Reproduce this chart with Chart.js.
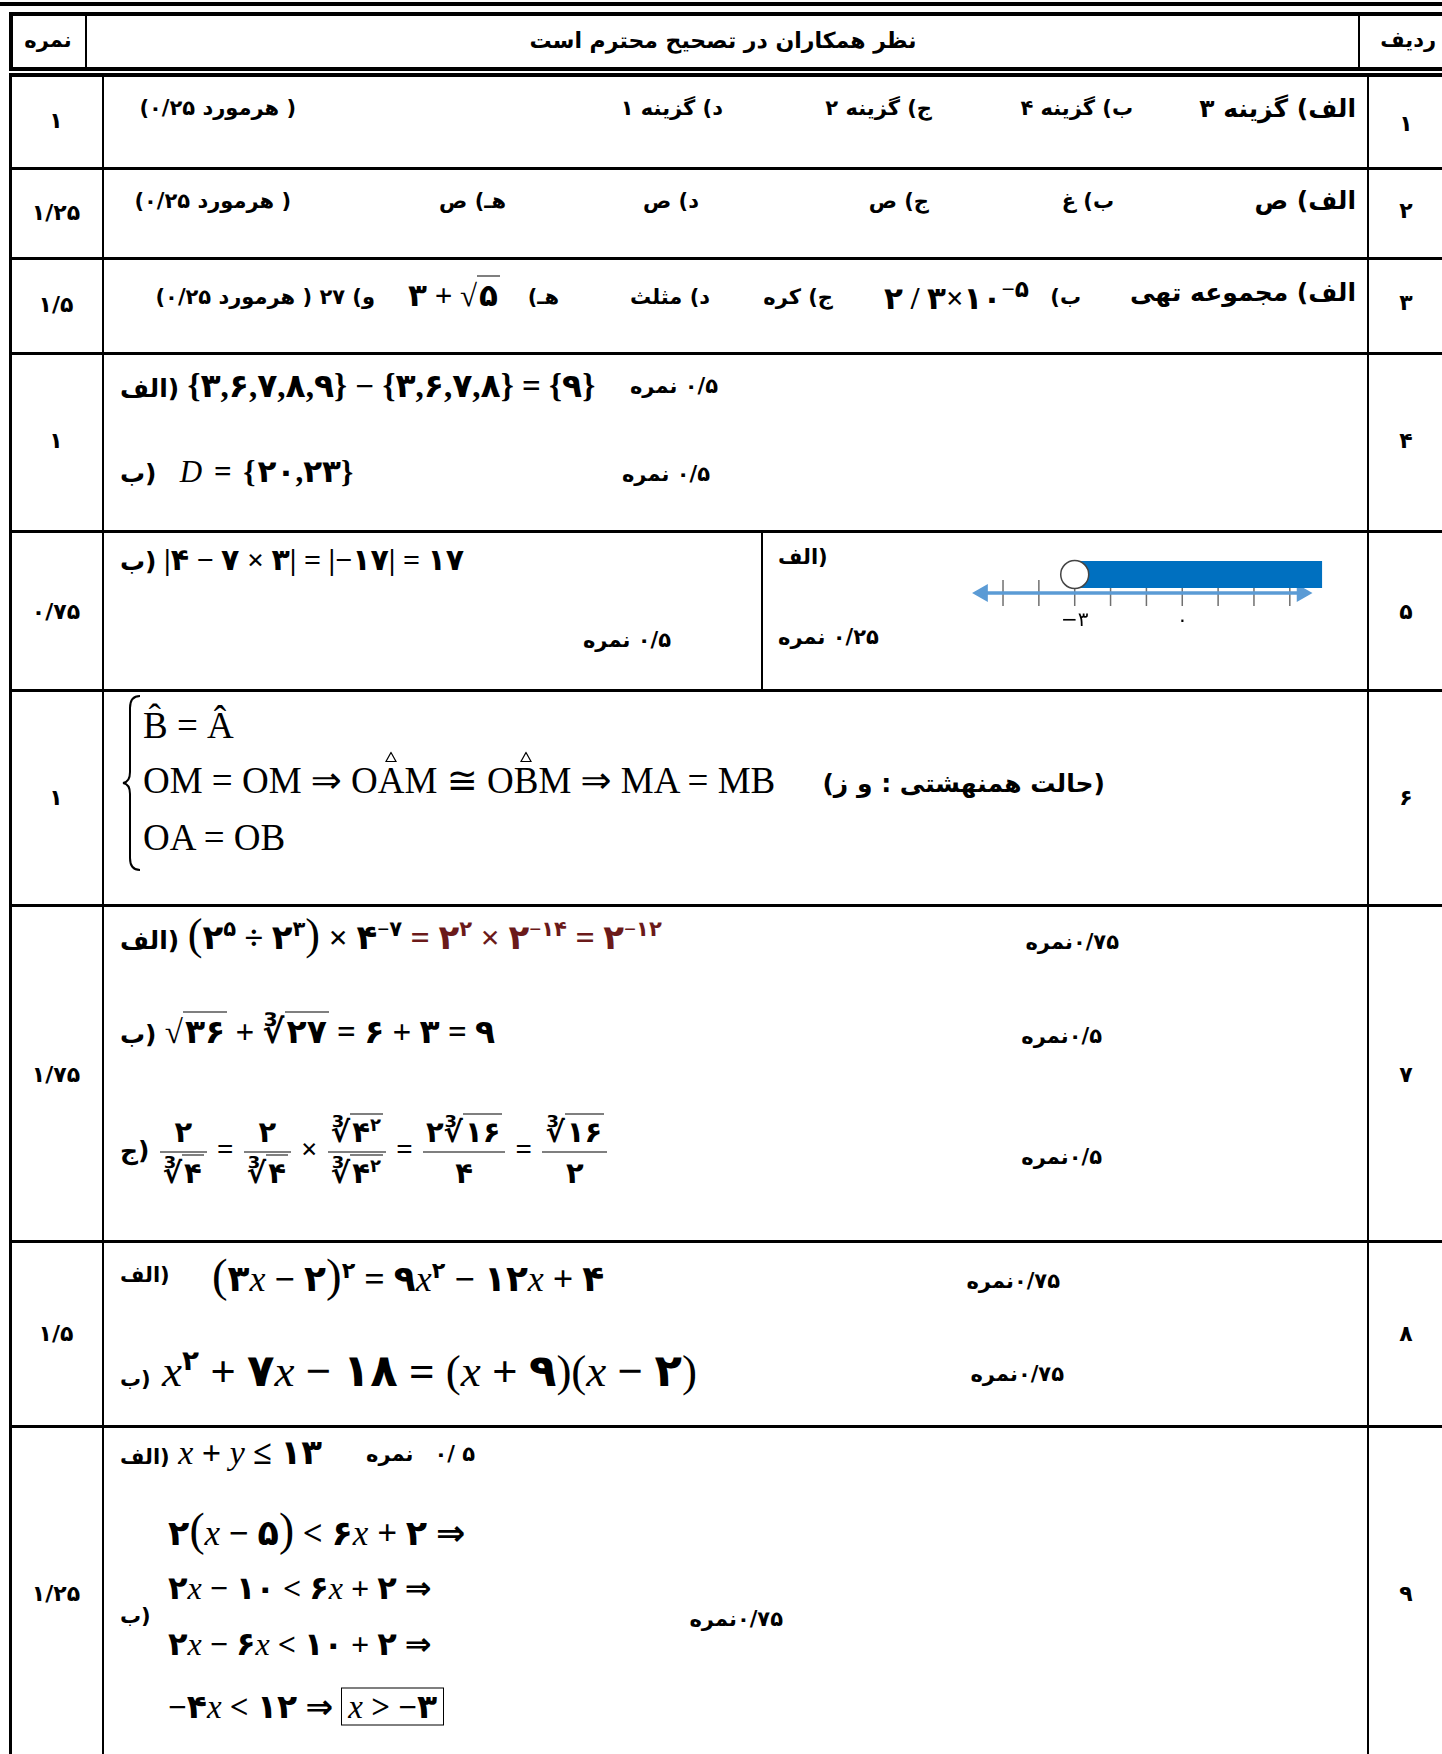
<!DOCTYPE html>
<html lang="fa">
<head>
<meta charset="utf-8">
<title>پاسخنامه</title>
<script src="https://cdn.jsdelivr.net/npm/chart.js@4.4.1/dist/chart.umd.min.js"></script>
<style>
  html, body { margin: 0; padding: 0; background: #fff; }
  #page { position: relative; width: 1442px; height: 1754px; overflow: hidden; background: #fff; color: #000; }
  .hl, .vl { position: absolute; background: #000; }
  .t { position: absolute; white-space: nowrap; transform: translateY(-50%); }
  .c { transform: translate(-50%, -50%); text-align: center; }
  .fa { font-family: "DejaVu Sans", sans-serif; font-weight: bold; direction: rtl; unicode-bidi: isolate; }
  .m { font-family: "Liberation Serif", "DejaVu Sans", serif; direction: ltr; unicode-bidi: bidi-override; font-weight: bold; }
  .m i { font-style: italic; font-weight: normal; }
  .n { font-weight: normal; }
  .red { color: #6b1a1a; }
  .fr { display: inline-flex; flex-direction: column; vertical-align: middle; text-align: center; margin: 0 3px; }
  .fr > span:first-child { border-bottom: 1.5px solid #000; padding: 0 3px 3px; }
  .fr > span:last-child { padding: 3px 3px 0; }
  .ov { border-top: 1.5px solid #000; padding: 1px 2px 0; }
  .hat { position: relative; display: inline-block; }
  .hat > svg { position: absolute; left: 50%; top: -0.2em; transform: translateX(-50%); }
  .box { border: 1.5px solid #000; padding: 0 6px; }
  sup { font-size: 0.62em; line-height: 0; }
  #nl { position: absolute; left: 960px; top: 540px; }
</style>
</head>
<body>
<div id="page">

  <!-- rules -->
  <div class="hl" style="left:0;top:2px;width:1442px;height:4px"></div>
  <div style="position:absolute;left:9px;top:12px;width:1450px;height:51px;border:4px solid #000"></div>
  <div class="vl" style="left:85px;top:12px;width:2px;height:58px"></div>
  <div class="vl" style="left:1358px;top:12px;width:2px;height:58px"></div>

  <div class="hl" style="left:9px;top:73px;width:1433px;height:4px"></div>
  <div class="vl" style="left:9px;top:73px;width:3px;height:1681px"></div>
  <div class="vl" style="left:102px;top:73px;width:2px;height:1681px"></div>
  <div class="vl" style="left:1367px;top:73px;width:2px;height:1681px"></div>
  <div class="hl" style="left:9px;top:167px;width:1433px;height:3px"></div>
  <div class="hl" style="left:9px;top:257px;width:1433px;height:3px"></div>
  <div class="hl" style="left:9px;top:352px;width:1433px;height:3px"></div>
  <div class="hl" style="left:9px;top:530px;width:1433px;height:3px"></div>
  <div class="hl" style="left:9px;top:689px;width:1433px;height:3px"></div>
  <div class="hl" style="left:9px;top:904px;width:1433px;height:3px"></div>
  <div class="hl" style="left:9px;top:1240px;width:1433px;height:3px"></div>
  <div class="hl" style="left:9px;top:1425px;width:1433px;height:3px"></div>
  <div class="vl" style="left:761px;top:531px;width:2px;height:159px"></div>

  <!-- header -->
  <div class="t c fa" style="left:48px;top:40px;font-size:21px">نمره</div>
  <div class="t c fa" style="left:723px;top:40px;font-size:22px">نظر همکاران در تصحیح محترم است</div>
  <div class="t fa" style="right:6px;top:40px;font-size:21px">ردیف</div>

  <!-- scores and row numbers -->
  <div class="t c fa" style="left:56px;top:120px;font-size:22px">۱</div>
  <div class="t c fa" style="left:56px;top:212px;font-size:22px">۱/۲۵</div>
  <div class="t c fa" style="left:56px;top:304px;font-size:22px">۱/۵</div>
  <div class="t c fa" style="left:56px;top:440px;font-size:22px">۱</div>
  <div class="t c fa" style="left:56px;top:611px;font-size:22px">۰/۷۵</div>
  <div class="t c fa" style="left:56px;top:797px;font-size:22px">۱</div>
  <div class="t c fa" style="left:56px;top:1074px;font-size:22px">۱/۷۵</div>
  <div class="t c fa" style="left:56px;top:1333px;font-size:22px">۱/۵</div>
  <div class="t c fa" style="left:56px;top:1593px;font-size:22px">۱/۲۵</div>

  <div class="t c fa" style="left:1406px;top:123px;font-size:22px">۱</div>
  <div class="t c fa" style="left:1406px;top:210px;font-size:22px">۲</div>
  <div class="t c fa" style="left:1406px;top:302px;font-size:22px">۳</div>
  <div class="t c fa" style="left:1406px;top:440px;font-size:22px">۴</div>
  <div class="t c fa" style="left:1406px;top:611px;font-size:22px">۵</div>
  <div class="t c fa" style="left:1406px;top:797px;font-size:22px">۶</div>
  <div class="t c fa" style="left:1406px;top:1074px;font-size:22px">۷</div>
  <div class="t c fa" style="left:1406px;top:1333px;font-size:22px">۸</div>
  <div class="t c fa" style="left:1406px;top:1593px;font-size:22px">۹</div>

  <!-- row 1 -->
  <div class="t fa" style="right:86px;top:108px;font-size:25px">الف) گزینه ۳</div>
  <div class="t fa" style="right:309px;top:108px;font-size:21px">ب) گزینه ۴</div>
  <div class="t fa" style="right:510px;top:108px;font-size:21px">ج) گزینه ۲</div>
  <div class="t fa" style="right:719px;top:108px;font-size:21px">د) گزینه ۱</div>
  <div class="t fa" style="right:1146px;top:108px;font-size:21px">( هرمورد ۰/۲۵)</div>

  <!-- row 2 -->
  <div class="t fa" style="right:86px;top:200px;font-size:25px">الف) ص</div>
  <div class="t fa" style="right:328px;top:201px;font-size:21px">ب) غ</div>
  <div class="t fa" style="right:513px;top:201px;font-size:21px">ج) ص</div>
  <div class="t fa" style="right:743px;top:201px;font-size:21px">د) ص</div>
  <div class="t fa" style="right:936px;top:201px;font-size:21px">هـ) ص</div>
  <div class="t fa" style="right:1151px;top:201px;font-size:21px">( هرمورد ۰/۲۵)</div>

  <!-- row 3 -->
  <div class="t fa" style="right:86px;top:292px;font-size:25px">الف) مجموعه تهی</div>
  <div class="t fa" style="right:361px;top:297px;font-size:21px">ب)</div>
  <div class="t m" style="left:884px;top:298px;font-size:31px">۲ / ۳×۱۰<sup style="font-size:0.75em">−۵</sup></div>
  <div class="t fa" style="right:609px;top:297px;font-size:21px">ج) کره</div>
  <div class="t fa" style="right:732px;top:297px;font-size:21px">د) مثلث</div>
  <div class="t fa" style="right:883px;top:297px;font-size:21px">هـ)</div>
  <div class="t m" style="left:408px;top:295px;font-size:31px">۳ + √<span class="ov">۵</span></div>
  <div class="t fa" style="right:1067px;top:297px;font-size:21px">و) ۲۷ ( هرمورد ۰/۲۵)</div>

  <!-- row 4 -->
  <div class="t" style="left:120px;top:385px;font-size:33px"><span class="fa" style="font-size:25px">(الف</span> <span class="m" style="letter-spacing:1px">{۳,۶,۷,۸,۹} − {۳,۶,۷,۸} = {۹}</span></div>
  <div class="t fa" style="right:724px;top:386px;font-size:21px">۰/۵ نمره</div>
  <div class="t" style="left:120px;top:471px;font-size:31px"><span class="fa" style="font-size:25px">(ب</span>&nbsp;&nbsp; <span class="m" style="letter-spacing:2px"><i>D</i> = {۲۰,۲۳}</span></div>
  <div class="t fa" style="right:732px;top:474px;font-size:21px">۰/۵ نمره</div>

  <!-- row 5 -->
  <div class="t" style="left:120px;top:559px;font-size:30px"><span class="fa" style="font-size:25px">(ب</span> <span class="m">|۴ − ۷ × ۳| = |−۱۷| = ۱۷</span></div>
  <div class="t fa" style="right:771px;top:640px;font-size:21px">۰/۵ نمره</div>
  <div class="t fa" style="left:778px;top:557px;font-size:21px">(الف</div>
  <div class="t fa" style="left:778px;top:637px;font-size:21px">۰/۲۵ نمره</div>
  <canvas id="nl" width="380" height="100"></canvas>

  <!-- row 6 -->
  <svg style="position:absolute;left:121px;top:694px" width="22" height="178">
    <path d="M19,2 Q9,2 9,14 L9,78 Q9,88 2,89 Q9,90 9,100 L9,164 Q9,176 19,176" stroke="#000" stroke-width="2" fill="none"/>
  </svg>
  <div class="t m n" style="left:143px;top:725px;font-size:37px">B̂ = Â</div>
  <div class="t m n" style="left:143px;top:780px;font-size:37px">OM = OM ⇒ O<span class="hat">A<svg width="12" height="11"><path d="M6,1 L11,10 L1,10 Z" fill="none" stroke="#000" stroke-width="1.2"/></svg></span>M ≅ O<span class="hat">B<svg width="12" height="11"><path d="M6,1 L11,10 L1,10 Z" fill="none" stroke="#000" stroke-width="1.2"/></svg></span>M ⇒ MA = MB</div>
  <div class="t m n" style="left:143px;top:837px;font-size:37px">OA = OB</div>
  <div class="t fa" style="right:337px;top:783px;font-size:25px">(حالت همنهشتی : و ز)</div>

  <!-- row 7 -->
  <div class="t" style="left:120px;top:934px;font-size:34px"><span class="fa" style="font-size:25px">(الف</span> <span class="m"><span class="n" style="font-size:1.3em">(</span>۲<sup>۵</sup> ÷ ۲<sup>۳</sup><span class="n" style="font-size:1.3em">)</span> × ۴<sup>−۷</sup> <span class="red">= ۲<sup>۲</sup> × ۲<sup>−۱۴</sup> = ۲<sup>−۱۲</sup></span></span></div>
  <div class="t fa" style="right:323px;top:942px;font-size:21px">۰/۷۵نمره</div>
  <div class="t" style="left:120px;top:1031px;font-size:33px"><span class="fa" style="font-size:25px">(ب</span> <span class="m">√<span class="ov">۳۶</span> + ∛<span class="ov">۲۷</span> = ۶ + ۳ = ۹</span></div>
  <div class="t fa" style="right:340px;top:1036px;font-size:21px">۰/۵نمره</div>
  <div class="t" style="left:120px;top:1152px;font-size:29px"><span class="fa" style="font-size:25px">(ج</span> <span class="m"><span class="fr"><span>۲</span><span>∛<span class="ov">۴</span></span></span> = <span class="fr"><span>۲</span><span>∛<span class="ov">۴</span></span></span> × <span class="fr"><span>∛<span class="ov">۴<sup>۲</sup></span></span><span>∛<span class="ov">۴<sup>۲</sup></span></span></span> = <span class="fr"><span>۲∛<span class="ov">۱۶</span></span><span>۴</span></span> = <span class="fr"><span>∛<span class="ov">۱۶</span></span><span>۲</span></span></span></div>
  <div class="t fa" style="right:340px;top:1157px;font-size:21px">۰/۵نمره</div>

  <!-- row 8 -->
  <div class="t fa" style="left:120px;top:1275px;font-size:21px">(الف</div>
  <div class="t m" style="left:212px;top:1275px;font-size:36px"><span class="n" style="font-size:1.3em">(</span>۳<i>x</i> − ۲<span class="n" style="font-size:1.3em">)</span><sup>۲</sup> = ۹<i>x</i><sup>۲</sup> − ۱۲<i>x</i> + ۴</div>
  <div class="t fa" style="right:382px;top:1281px;font-size:21px">۰/۷۵نمره</div>
  <div class="t" style="left:120px;top:1370px;font-size:45px"><span class="fa" style="font-size:21px">(ب</span> <span class="m"><i>x</i><sup>۲</sup> + ۷<i>x</i> − ۱۸ = <span class="n">(</span><i>x</i> + ۹<span class="n">)(</span><i>x</i> − ۲<span class="n">)</span></span></div>
  <div class="t fa" style="right:378px;top:1374px;font-size:21px">۰/۷۵نمره</div>

  <!-- row 9 -->
  <div class="t" style="left:120px;top:1452px;font-size:34px"><span class="fa" style="font-size:21px">(الف</span> <span class="m"><i>x</i> + <i>y</i> ≤ ۱۳</span></div>
  <div class="t" style="left:366px;top:1454px;font-size:21px;direction:ltr"><span class="fa">نمره</span>&nbsp;&nbsp;&nbsp; <span class="fa" style="direction:ltr;unicode-bidi:bidi-override">۰/ ۵</span></div>
  <div class="t m" style="left:168px;top:1529px;font-size:35px">۲<span class="n" style="font-size:1.3em">(</span><i>x</i> − ۵<span class="n" style="font-size:1.3em">)</span> &lt; ۶<i>x</i> + ۲ ⇒</div>
  <div class="t m" style="left:168px;top:1588px;font-size:32px">۲<i>x</i> − ۱۰ &lt; ۶<i>x</i> + ۲ ⇒</div>
  <div class="t fa" style="left:120px;top:1616px;font-size:21px">(ب</div>
  <div class="t m" style="left:168px;top:1644px;font-size:32px">۲<i>x</i> − ۶<i>x</i> &lt; ۱۰ + ۲ ⇒</div>
  <div class="t m" style="left:168px;top:1706px;font-size:33px">−۴<i>x</i> &lt; ۱۲ ⇒ <span class="box"><i>x</i> &gt; −۳</span></div>
  <div class="t fa" style="right:659px;top:1619px;font-size:21px">۰/۷۵نمره</div>
</div>

<script>
// number line of row 5 (x > -3)
const tickValues = [-5, -4, -3, -2, -1, 0, 1, 2, 3];
const tickNames = ['', '', '−۳', '', '', '۰', '', '', ''];
const lineEnds = [-5.57, 3.34];
const shaded = [-3, 3.9];
const openPoint = [-3];

// vertical levels inside the little plot (y scale 0..70)
const AXIS_Y = 17, BAR_Y = 35.5, TICK_LO = 4, TICK_HI = 30;

new Chart(document.getElementById('nl'), {
  type: 'line',
  data: {
    datasets: [
      {
        data: tickValues.flatMap(v => [{x: v, y: TICK_LO}, {x: v, y: TICK_HI}, {x: v, y: null}]),
        borderColor: '#707070', borderWidth: 1.5, pointRadius: 0, spanGaps: false, order: 4
      },
      {
        data: lineEnds.map(v => ({x: v, y: AXIS_Y})),
        borderColor: '#5b9bd5', borderWidth: 3.5,
        pointStyle: 'triangle', pointRadius: 7, pointRotation: [-90, 90],
        pointBackgroundColor: '#5b9bd5', pointBorderColor: '#5b9bd5', order: 3
      },
      {
        data: shaded.map(v => ({x: v, y: BAR_Y})),
        borderColor: '#0070c0', borderWidth: 27, borderCapStyle: 'butt', pointRadius: 0, order: 2
      },
      {
        data: openPoint.map(v => ({x: v, y: BAR_Y})),
        showLine: false, pointRadius: 14,
        pointBackgroundColor: '#fff', pointBorderColor: '#444', pointBorderWidth: 1.5, order: 1
      }
    ]
  },
  options: {
    responsive: false,
    animation: false,
    events: [],
    clip: false,
    layout: {padding: 0, autoPadding: false},
    plugins: {legend: {display: false}, tooltip: {enabled: false}},
    scales: {
      x: {
        type: 'linear', min: -6.2, max: 4.4,
        grid: {display: false}, border: {display: false},
        afterBuildTicks: s => { s.ticks = tickValues.map(v => ({value: v})); },
        afterFit: s => { s.height = 30; },
        ticks: {
          autoSkip: false, maxRotation: 0, padding: -9, color: '#000',
          font: {size: 20, family: 'DejaVu Sans'},
          callback: (v, i) => tickNames[i]
        }
      },
      y: {display: false, min: 0, max: 70}
    }
  }
});
</script>
</body>
</html>
